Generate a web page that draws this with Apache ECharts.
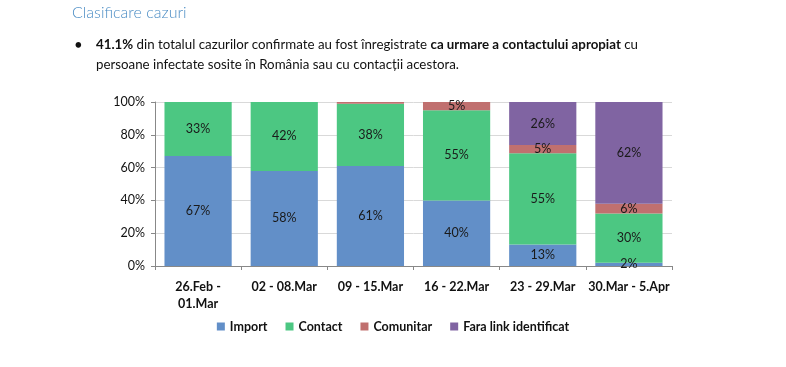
<!DOCTYPE html>
<html><head><meta charset="utf-8">
<script src="https://cdn.jsdelivr.net/npm/echarts@6/dist/echarts.min.js"></script>
<style>
html,body{margin:0;padding:0;background:#fff;width:786px;height:367px;overflow:hidden;font-family:Lato,sans-serif;}
#title{position:absolute;left:72px;top:2px;font-size:16px;color:#4a8cc4;font-weight:300;font-family:Lato,sans-serif;}
#bul{position:absolute;left:72px;top:34px;font-size:13.3px;color:#111;line-height:20px;font-family:Lato,sans-serif;}
#bul .dot{position:absolute;left:2px;top:0;font-size:15px;}
#bul .txt{position:absolute;left:24px;top:0;width:680px;white-space:nowrap;}
#chart{position:absolute;left:0;top:0;width:786px;height:367px;}
</style></head><body>
<div id="chart"></div>
<div id="title">Clasificare cazuri</div>
<div id="bul"><span class="dot">•</span><div class="txt"><b>41.1%</b> din totalul cazurilor confirmate au fost înregistrate <b>ca urmare a contactului apropiat</b> cu<br>persoane infectate sosite în România sau cu contacții acestora.</div></div>
<script>
const categories = ["26.Feb -\n01.Mar","02 - 08.Mar","09 - 15.Mar","16 - 22.Mar","23 - 29.Mar","30.Mar - 5.Apr"];
const importVals = [67,58,61,40,13,2];
const contactVals = [33,42,38,55,55,30];
const comunitarVals = [0,0,1,5,5,6];
const faraVals = [0,0,0,0,26,62];
const yTicks = [0,20,40,60,80,100];

// 100% stacked: each column is normalised to its total; labels show the read values
const totals = categories.map((_,i)=>importVals[i]+contactVals[i]+comunitarVals[i]+faraVals[i]);
const norm = arr => arr.map((v,i)=>({value:v*100/totals[i], raw:v}));

const chart = echarts.init(document.getElementById('chart'));
function mk(name, data, color){
  return {name, type:'bar', stack:'t', data:norm(data), barCategoryGap:'22%',
    itemStyle:{color},
    label:{show:true, position:'inside', color:'#1a1a1a', fontSize:12.5, fontFamily:'Lato, sans-serif',
      formatter:p=> p.data.raw>=2 ? p.data.raw+'%' : ''}};
}
chart.setOption({
  animation:false,
  grid:{left:155,right:114,top:102,bottom:101},
  legend:{bottom:29,left:'center',itemWidth:8,itemHeight:8,itemGap:18,icon:'rect',
    textStyle:{fontWeight:'bold',fontSize:12.5,color:'#111',fontFamily:'Lato, sans-serif'}},
  xAxis:{type:'category',data:categories,
    axisLine:{lineStyle:{color:'#888'}},
    axisTick:{show:true,lineStyle:{color:'#888'},length:4},
    axisLabel:{fontWeight:'bold',fontSize:12.5,color:'#111',margin:12,lineHeight:17,interval:0,fontFamily:'Lato, sans-serif'}},
  yAxis:{type:'value',min:yTicks[0],max:yTicks[yTicks.length-1],interval:20,
    axisLine:{show:true,lineStyle:{color:'#888'}},
    axisTick:{show:true,lineStyle:{color:'#888'},length:4},
    splitLine:{lineStyle:{color:'#d9d9d9'}},
    axisLabel:{formatter:'{value}%',fontSize:12.5,color:'#111',margin:10,fontFamily:'Lato, sans-serif'}},
  series:[
    mk('Import',importVals,'#628fc8'),
    mk('Contact',contactVals,'#4cc782'),
    mk('Comunitar',comunitarVals,'#c0706f'),
    mk('Fara link identificat',faraVals,'#8064a2')
  ]
});
</script>
</body></html>
